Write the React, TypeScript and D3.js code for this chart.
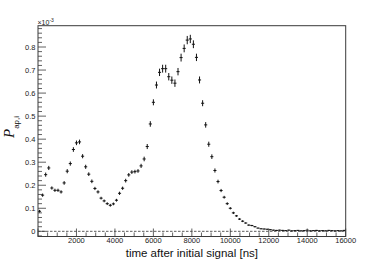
import React from "react";
import * as d3 from "d3";

const binWidth = 160;
const values = [
  0.087, 0.157, 0.246, 0.275, 0.188, 0.178, 0.178, 0.171, 0.21, 0.261,
  0.294, 0.355, 0.384, 0.388, 0.326, 0.28, 0.248, 0.217, 0.186, 0.171,
  0.144, 0.132, 0.12, 0.113, 0.119, 0.135, 0.165, 0.187, 0.22, 0.245,
  0.257, 0.259, 0.262, 0.284, 0.314, 0.368, 0.466, 0.56, 0.635, 0.69,
  0.706, 0.706, 0.671, 0.656, 0.643, 0.693, 0.754, 0.794, 0.83, 0.835,
  0.812, 0.755, 0.657, 0.556, 0.462, 0.378, 0.324, 0.264, 0.216, 0.177,
  0.148, 0.12, 0.1, 0.08, 0.067, 0.053, 0.044, 0.036, 0.027, 0.025,
  0.02, 0.014, 0.011, 0.01, 0.009, 0.007, 0.005, 0.004, 0.005, 0.004,
  0.003, 0.005, 0.002, 0.003, 0.004, 0.002, 0.003, 0.005, 0.002, 0.003,
  0.004, 0.002, 0.003, 0.002, 0.004, 0.003, 0.002, 0.003, 0.002, 0.004,
];
const errors = [
  0.006, 0.007, 0.009, 0.009, 0.007, 0.007, 0.007, 0.007, 0.008, 0.009,
  0.009, 0.01, 0.01, 0.01, 0.009, 0.009, 0.008, 0.008, 0.007, 0.007,
  0.006, 0.006, 0.006, 0.006, 0.006, 0.006, 0.007, 0.007, 0.008, 0.008,
  0.008, 0.008, 0.008, 0.009, 0.01, 0.011, 0.012, 0.013, 0.015, 0.016,
  0.017, 0.017, 0.016, 0.016, 0.016, 0.016, 0.017, 0.017, 0.018, 0.018,
  0.017, 0.016, 0.015, 0.013, 0.012, 0.011, 0.01, 0.009, 0.008, 0.007,
  0.006, 0.006, 0.005, 0.005, 0.004, 0.004, 0.004, 0.003, 0.003, 0.003,
  0.003, 0.002, 0.002, 0.002, 0.002, 0.002, 0.002, 0.002, 0.002, 0.002,
  0.002, 0.002, 0.002, 0.002, 0.002, 0.002, 0.002, 0.002, 0.002, 0.002,
  0.002, 0.002, 0.002, 0.002, 0.002, 0.002, 0.002, 0.002, 0.002, 0.002,
];
const xTickValues = [2000, 4000, 6000, 8000, 10000, 12000, 14000, 16000];
const yTickValues = [0, 0.1, 0.2, 0.3, 0.4, 0.5, 0.6, 0.7, 0.8];

const W = 384;
const H = 263;
const L = 38, R = 345.7, T = 25.7, B = 236.5;
const frameColor = "#3a3a3a";
const font = "'Liberation Sans', Arial, Helvetica, sans-serif";

export default function App() {
  const x = d3.scaleLinear().domain([0, 16000]).range([L, R]);
  const y = d3.scaleLinear().domain([-0.0225, 0.8925]).range([B, T]);

  const xMinor = d3.range(0, 16001, 500);
  const yMinor = d3.range(-0.02, 0.8901, 0.02);

  return (
    <svg width={W} height={H} style={{ position: "absolute", left: 0, top: 0, background: "#fff" }}>
      <rect x={0} y={0} width={W} height={H} fill="#fff" />
      {/* zero line */}
      <line x1={L} x2={R} y1={y(0)} y2={y(0)} stroke="#333" strokeWidth={0.8} strokeDasharray="2.5,1.5" />
      {/* data */}
      <g stroke="#111" strokeWidth={1} fill="none">
        {values.map((v, i) => {
          const x0 = x(i * binWidth);
          const x1 = x((i + 1) * binWidth);
          const xc = x((i + 0.5) * binWidth);
          const e = errors[i];
          return (
            <g key={i}>
              <line x1={x0} x2={x1} y1={y(v)} y2={y(v)} />
              <line x1={xc} x2={xc} y1={y(v - e)} y2={y(v + e)} />
            </g>
          );
        })}
      </g>
      {/* ticks */}
      <g stroke={frameColor} strokeWidth={0.8}>
        {xMinor.map((t) => (
          <line key={"xm" + t} x1={x(t)} x2={x(t)} y1={B} y2={B - (t % 2000 === 0 ? 8 : 4)} />
        ))}
        {yMinor.map((t) => {
          const major = Math.abs(Math.round(t * 10) - t * 10) < 1e-6;
          return <line key={"ym" + t} x1={L} x2={L + (major ? 8 : 4)} y1={y(t)} y2={y(t)} />;
        })}
      </g>
      {/* frame */}
      <rect x={L} y={T} width={R - L} height={B - T} fill="none" stroke={frameColor} strokeWidth={1} />
      {/* tick labels */}
      <g fontFamily={font} fontSize={7.5} fill="#222">
        {xTickValues.map((t) => (
          <text key={"xl" + t} x={x(t)} y={B + 6.8} textAnchor="middle">
            {t}
          </text>
        ))}
        {yTickValues.map((t) => (
          <text key={"yl" + t} x={L - 2.5} y={y(t) + 2.7} textAnchor="end">
            {t === 0 ? "0" : t.toFixed(1)}
          </text>
        ))}
      </g>
      <text x={L - 0.5} y={24.5} fontFamily={font} fontSize={7} fill="#222">
        ×10<tspan fontSize={5} dy={-3}>-3</tspan>
      </text>
      {/* axis titles */}
      <text x={(L + R) / 2} y={256.5} textAnchor="middle" fontFamily={font} fontSize={11.5} fill="#111">
        time after initial signal [ns]
      </text>
      <text transform={`translate(14,127) rotate(-90)`} textAnchor="middle" fill="#111">
        <tspan fontFamily="'Liberation Serif', 'Times New Roman', serif" fontStyle="italic" fontSize={15}>P</tspan>
        <tspan fontFamily={font} fontSize={8} dy={4.5}>ap,i</tspan>
      </text>
    </svg>
  );
}
